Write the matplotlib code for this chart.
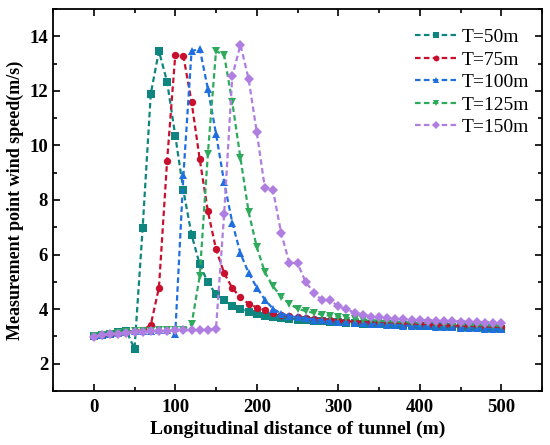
import numpy as np
import matplotlib
matplotlib.use("Agg")
import matplotlib.pyplot as plt
from matplotlib.ticker import MultipleLocator

plt.rcParams['font.family'] = ['Liberation Serif', 'DejaVu Serif']

# distance along the tunnel (m), one probe every 10 m
dist = list(range(0, 501, 10))

labels = ["T=50m", "T=75m", "T=100m", "T=125m", "T=150m"]

t50 = [3.00, 3.06, 3.10, 3.15, 3.20, 2.55, 6.97, 11.9, 13.46, 12.33,
       10.36, 8.35, 6.73, 5.64, 4.98, 4.54, 4.33, 4.10, 4.00, 3.90,
       3.82, 3.76, 3.71, 3.68, 3.65, 3.62, 3.60, 3.58, 3.56, 3.54,
       3.52, 3.50, 3.49, 3.47, 3.46, 3.45, 3.44, 3.43, 3.42, 3.41,
       3.40, 3.39, 3.38, 3.37, 3.36, 3.35, 3.34, 3.33, 3.32, 3.31, 3.29]
t75 = [3.00, 3.06, 3.10, 3.14, 3.17, 3.19, 3.22, 3.43, 4.79, 9.43,
       13.31, 13.27, 11.6, 9.5, 7.59, 6.2, 5.32, 4.77, 4.43, 4.2,
       4.06, 3.96, 3.86, 3.80, 3.75, 3.71, 3.68, 3.65, 3.62, 3.60,
       3.58, 3.56, 3.54, 3.53, 3.51, 3.50, 3.49, 3.48, 3.46, 3.45,
       3.44, 3.43, 3.42, 3.41, 3.40, 3.39, 3.38, 3.37, 3.36, 3.35, 3.34]
t100 = [3.00, 3.06, 3.10, 3.14, 3.17, 3.19, 3.20, 3.21, 3.22, 3.22,
        3.10, 8.9, 13.45, 13.55, 12.08, 10.43, 8.65, 7.17, 6.04, 5.33,
        4.79, 4.35, 4.01, 3.84, 3.75, 3.70, 3.66, 3.62, 3.59, 3.56,
        3.54, 3.52, 3.50, 3.48, 3.46, 3.45, 3.43, 3.42, 3.40, 3.39,
        3.38, 3.37, 3.35, 3.34, 3.33, 3.32, 3.31, 3.30, 3.28, 3.27, 3.26]
t125 = [3.00, 3.06, 3.10, 3.14, 3.17, 3.19, 3.20, 3.21, 3.22, 3.22,
        3.23, 3.25, 3.44, 5.21, 9.68, 13.46, 13.31, 11.58, 9.54, 7.57,
        6.28, 5.35, 4.84, 4.45, 4.20, 4.02, 3.93, 3.86, 3.80, 3.76,
        3.72, 3.68, 3.65, 3.62, 3.60, 3.58, 3.56, 3.54, 3.53, 3.51,
        3.50, 3.49, 3.47, 3.46, 3.45, 3.44, 3.43, 3.42, 3.41, 3.40, 3.39]
t150 = [2.98, 3.04, 3.08, 3.10, 3.13, 3.16, 3.18, 3.19, 3.20, 3.21,
        3.22, 3.22, 3.23, 3.23, 3.24, 3.29, 7.48, 12.54, 13.69, 12.44,
        10.49, 8.43, 8.35, 6.78, 5.70, 5.68, 5.00, 4.60, 4.33, 4.33,
        4.10, 4.00, 3.87, 3.80, 3.73, 3.70, 3.67, 3.65, 3.63, 3.61,
        3.60, 3.58, 3.57, 3.56, 3.55, 3.54, 3.53, 3.52, 3.51, 3.50, 3.48]

series = [t50, t75, t100, t125, t150]
colors = ["#0f8580", "#c8102e", "#1f6fe0", "#2eaa5c", "#b07ee0"]
markers = ["s", "o", "^", "v", "D"]

fig = plt.figure(figsize=(5.5, 4.45), dpi=100)
ax = fig.add_axes([53/550, 1 - 391/445, (542 - 53)/550, (391 - 9)/445])

for y, c, m, lab in zip(series, colors, markers, labels):
    ms = 4.8 if m == "D" else 5.3
    ax.plot(dist, y, linestyle=(0, (2.5, 1.5)), color=c, lw=1.6,
            marker=m, markersize=ms, markeredgewidth=0, label=lab)

ax.set_xlim(-50, 550)
ax.set_ylim(1, 15)
ax.set_xticks([0, 100, 200, 300, 400, 500])
ax.set_yticks([2, 4, 6, 8, 10, 12, 14])
ax.xaxis.set_minor_locator(MultipleLocator(50))
ax.yaxis.set_minor_locator(MultipleLocator(1))
ax.tick_params(which="both", direction="in", top=True, right=True, width=1.2)
ax.tick_params(which="major", length=5, labelsize=13.5)
ax.tick_params(which="minor", length=3)
ax.tick_params(axis="x", pad=6)
for lbl in ax.get_xticklabels() + ax.get_yticklabels():
    lbl.set_fontweight("bold")
for sp in ax.spines.values():
    sp.set_linewidth(1.3)

ax.set_xlabel("Longitudinal distance of tunnel (m)", fontsize=14, fontweight="bold",
              labelpad=3)
ax.set_ylabel("Measurement point wind speed(m/s)", fontsize=13, fontweight="bold",
              labelpad=4)

leg = ax.legend(loc="upper right", bbox_to_anchor=(0.985, 0.964), frameon=False,
                fontsize=14, handlelength=2.15, handletextpad=0.25,
                labelspacing=0.25, borderaxespad=0, borderpad=0.3,
                markerscale=0.8)

fig.savefig("out.png", dpi=100)
